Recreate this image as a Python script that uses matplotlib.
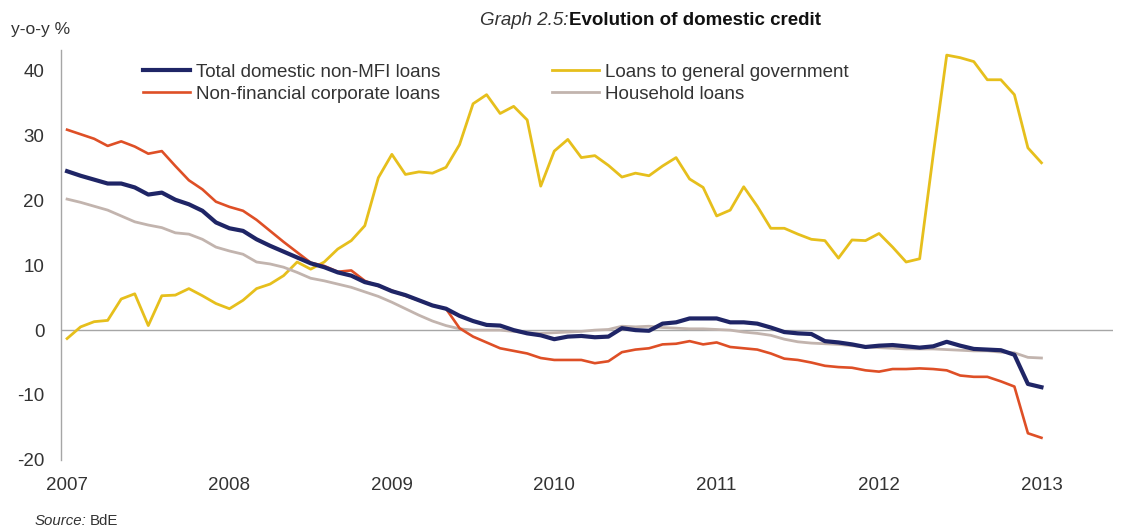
import numpy as np
import matplotlib
matplotlib.use("Agg")
import matplotlib.pyplot as plt

plt.rcParams['font.family'] = ['Liberation Sans', 'DejaVu Sans']
plt.rcParams['axes.unicode_minus'] = False

# monthly observations, Jan 2007 .. Jan 2013
start_year = 2007
n_months = 73
year_ticks = [2007, 2008, 2009, 2010, 2011, 2012, 2013]
y_ticks = [-20, -10, 0, 10, 20, 30, 40]

total_loans = [
    24.5, 23.8, 23.2, 22.6, 22.6, 22.0, 20.9, 21.2, 20.1, 19.4, 18.4, 16.6,
    15.7, 15.3, 14.0, 13.0, 12.1, 11.2, 10.3, 9.7, 8.9, 8.4, 7.4, 6.9,
    6.0, 5.4, 4.6, 3.8, 3.3, 2.2, 1.4, 0.8, 0.7, 0.0, -0.5, -0.8,
    -1.4, -1.0, -0.9, -1.1, -1.0, 0.3, 0.0, -0.1, 1.0, 1.2, 1.8, 1.8,
    1.8, 1.2, 1.2, 1.0, 0.4, -0.3, -0.5, -0.6, -1.7, -1.9, -2.2, -2.6,
    -2.4, -2.3, -2.5, -2.7, -2.5, -1.8, -2.4, -2.9, -3.0, -3.1, -3.8, -8.3,
    -8.8,
]
gov_loans = [
    -1.3, 0.5, 1.3, 1.5, 4.8, 5.6, 0.7, 5.3, 5.4, 6.4, 5.3, 4.1,
    3.3, 4.6, 6.4, 7.1, 8.4, 10.5, 9.4, 10.5, 12.5, 13.8, 16.1, 23.5,
    27.1, 24.0, 24.4, 24.2, 25.1, 28.6, 34.9, 36.3, 33.4, 34.5, 32.4, 22.2,
    27.6, 29.4, 26.6, 26.9, 25.4, 23.6, 24.2, 23.8, 25.3, 26.6, 23.3, 22.0,
    17.6, 18.5, 22.1, 19.1, 15.7, 15.7, 14.8, 14.0, 13.8, 11.1, 13.9, 13.8,
    14.9, 12.8, 10.5, 11.0, 27.0, 42.4, 42.0, 41.4, 38.6, 38.6, 36.3, 28.1,
    25.8,
]
corp_loans = [
    30.9, 30.2, 29.5, 28.4, 29.1, 28.3, 27.2, 27.6, 25.3, 23.1, 21.7, 19.8,
    19.0, 18.4, 17.0, 15.3, 13.6, 12.0, 10.4, 9.9, 9.0, 9.2, 7.6, 6.8,
    6.1, 5.3, 4.6, 3.8, 3.3, 0.3, -1.0, -1.9, -2.8, -3.2, -3.6, -4.3,
    -4.6, -4.6, -4.6, -5.1, -4.8, -3.4, -3.0, -2.8, -2.2, -2.1, -1.7, -2.2,
    -1.9, -2.6, -2.8, -3.0, -3.6, -4.4, -4.6, -5.0, -5.5, -5.7, -5.8, -6.2,
    -6.4, -6.0, -6.0, -5.9, -6.0, -6.2, -7.0, -7.2, -7.2, -7.9, -8.7, -15.9,
    -16.6,
]
household_loans = [
    20.2, 19.7, 19.1, 18.5, 17.6, 16.7, 16.2, 15.8, 15.0, 14.8, 14.0, 12.8,
    12.2, 11.7, 10.5, 10.2, 9.7, 8.9, 8.0, 7.6, 7.1, 6.6, 5.9, 5.2,
    4.3, 3.3, 2.3, 1.4, 0.7, 0.2, 0.0, 0.0, 0.0, -0.2, -0.4, -0.5,
    -0.4, -0.3, -0.2, 0.0, 0.1, 0.6, 0.5, 0.6, 0.4, 0.3, 0.2, 0.2,
    0.1, 0.0, -0.3, -0.5, -0.8, -1.4, -1.8, -2.0, -2.1, -2.2, -2.4, -2.6,
    -2.7, -2.8, -2.9, -2.9, -2.9, -3.0, -3.1, -3.2, -3.2, -3.4, -3.5, -4.2,
    -4.3,
]

x = start_year + np.arange(n_months) / 12.0

fig = plt.figure(figsize=(11.31, 5.31), dpi=100)
ax = fig.add_axes([0.054, 0.134, 0.93, 0.772])

ax.axhline(0, color='#a6a6a6', linewidth=1.0, zorder=1)

l_gov, = ax.plot(x, gov_loans, color='#e6bf1c', linewidth=2.0, zorder=2,
                 label='Loans to general government')
l_hh, = ax.plot(x, household_loans, color='#c2b4ae', linewidth=2.0, zorder=3,
                label='Household loans')
l_corp, = ax.plot(x, corp_loans, color='#de4f26', linewidth=1.9, zorder=4,
                  label='Non-financial corporate loans')
l_tot, = ax.plot(x, total_loans, color='#1f2566', linewidth=3.0, zorder=5,
                 label='Total domestic non-MFI loans')

ax.set_xlim(2006.963, 2013.44)
ax.set_ylim(-20, 43.2)
ax.set_xticks(year_ticks)
ax.set_xticklabels([str(y) for y in year_ticks])
ax.set_yticks(y_ticks)

for side in ['top', 'right', 'bottom']:
    ax.spines[side].set_visible(False)
ax.spines['left'].set_color('#a6a6a6')
ax.spines['left'].set_linewidth(1.0)
ax.tick_params(axis='both', length=0, labelsize=13.5, colors='#333333')
ax.tick_params(axis='y', pad=12)
ax.tick_params(axis='x', pad=12)

ax.legend(handles=[l_tot, l_corp, l_gov, l_hh], ncol=2, frameon=False,
          loc='upper left', bbox_to_anchor=(0.078, 0.967), borderaxespad=0,
          borderpad=0, fontsize=13.5, handlelength=2.5, handletextpad=0.3,
          columnspacing=6.0, labelspacing=0.28, labelcolor='#333333')

fig.text(0.503, 0.962, 'Graph 2.5:', style='italic', fontsize=13.5,
         color='#333333', ha='right', va='center')
fig.text(0.503, 0.962, 'Evolution of domestic credit', fontweight='bold',
         fontsize=13.5, color='#111111', ha='left', va='center')
fig.text(0.010, 0.945, 'y-o-y %', fontsize=12.5, color='#333333',
         ha='left', va='center')
fig.text(0.031, 0.018, 'Source:', style='italic', fontsize=10.8,
         color='#333333', ha='left', va='center')
fig.text(0.079, 0.018, 'BdE', fontsize=10.8, color='#333333',
         ha='left', va='center')

fig.savefig('out.png', dpi=100)
